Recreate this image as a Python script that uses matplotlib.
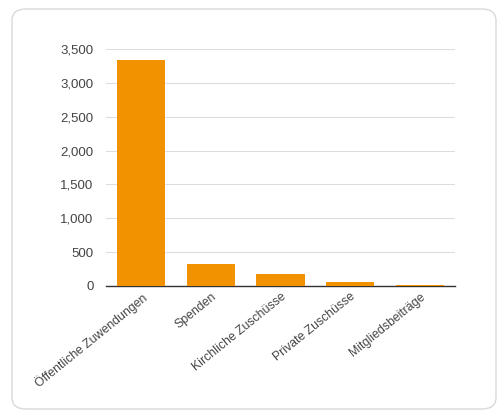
import matplotlib.pyplot as plt
from matplotlib.patches import FancyBboxPatch
from matplotlib.ticker import FuncFormatter

categories = ["Öffentliche Zuwendungen", "Spenden", "Kirchliche Zuschüsse",
              "Private Zuschüsse", "Mitgliedsbeiträge"]
values = [3335, 320, 182, 55, 12]
yticks = [0, 500, 1000, 1500, 2000, 2500, 3000, 3500]

plt.rcParams['font.family'] = ['Liberation Sans', 'DejaVu Sans']

W, H = 500, 416
fig = plt.figure(figsize=(W / 100, H / 100), dpi=100)

# card frame, behind the axes
card = FancyBboxPatch((12 / W, 7 / H), 484 / W, 400 / H,
                      boxstyle="round,pad=0,rounding_size=0.028",
                      transform=fig.transFigure, facecolor="white",
                      edgecolor="#d9d9d9", linewidth=1.0, zorder=-10)
fig.patches.append(card)

ax = fig.add_axes([106 / W, 1 - 286 / H, 349 / W, 237 / H])
ax.patch.set_alpha(0)

x = range(len(categories))
ax.bar(x, values, width=0.69, color="#F29200", zorder=5)

ax.set_xlim(-0.5, len(categories) - 0.5)
ax.set_ylim(0, 3500)
ax.set_yticks(yticks)
ax.yaxis.set_major_formatter(FuncFormatter(lambda v, p: f"{int(v):,}"))
ax.grid(axis="y", color="#dddddd", linewidth=0.8, zorder=0)

for s in ["top", "right", "left"]:
    ax.spines[s].set_visible(False)
ax.spines["bottom"].set_color("#333333")
ax.spines["bottom"].set_linewidth(1.0)
ax.spines["bottom"].set_zorder(4)

ax.tick_params(axis="both", length=0, colors="#444444")
ax.tick_params(axis="y", pad=9, labelsize=9.5)
ax.set_xticks(list(x))
ax.set_xticklabels(categories, rotation=39, ha="right", rotation_mode="anchor")
ax.tick_params(axis="x", pad=3.5, labelsize=8.8)

fig.savefig("out.png", dpi=100)
